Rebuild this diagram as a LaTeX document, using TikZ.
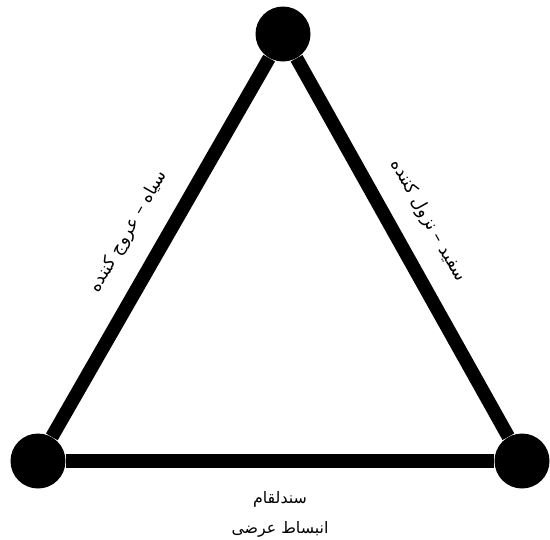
\documentclass[tikz,border=0pt]{standalone}
\usepackage{fontspec}
\newfontfamily\arabicfont[Script=Arabic]{DejaVu Sans}
\TeXXeTstate=1
\tikzset{joint/.style={circle,fill=black,minimum size=1.1cm,inner sep=0pt},
 side/.style={line width=0.27cm},
 every node/.style={font=\arabicfont\fontsize{10}{17.5}\selectfont}}

\begin{document}
\begin{tikzpicture}[x=0.02cm,y=-0.02cm]
\useasboundingbox (0,0) rectangle (550,539);
\node[joint] (top) at (283,34) {};
\node[joint] (left) at (38,461) {};
\node[joint] (right) at (522,461) {};
\draw[side] (top) -- node[pos=.505,sloped,above=.28cm] {\beginR سیاه – عروج کننده\endR} (left);
\draw[side] (top) -- node[pos=.475,sloped,above=.28cm] {\beginR سفید – نزول کننده\endR} (right);
\draw[side] (left) -- node[midway,below=.35cm,align=center,font=\arabicfont\fontsize{9}{17.5}\selectfont] {\beginR سندلقام\endR\\ \beginR انبساط عرضی\endR} (right);
\end{tikzpicture}
\end{document}
